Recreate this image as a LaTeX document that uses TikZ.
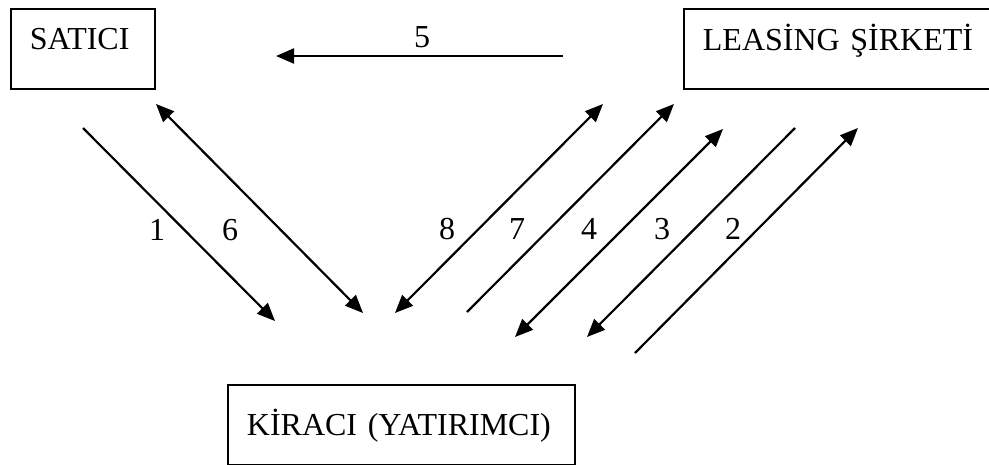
\documentclass[tikz,border=0pt]{standalone}
\usepackage{fontspec}
\setmainfont{Liberation Serif}
\usetikzlibrary{arrows.meta}
\begin{document}
\begin{tikzpicture}[x=1pt,y=-1pt,
  box/.style={draw, line width=1.8pt, anchor=north west, inner xsep=19pt, inner ysep=0pt,
    align=left, font=\fontsize{32}{38}\selectfont},
  lbl/.style={anchor=base, inner sep=0pt, font=\fontsize{32}{38}\selectfont},
  conn/.style={line width=2.2pt},
  tip/.style={-{Triangle[length=18pt,width=15pt]}},
  both/.style={{Triangle[length=18pt,width=15pt]}-{Triangle[length=18pt,width=15pt]}}
]
\useasboundingbox (0,0) rectangle (989,464);
% boxes
\node[box, text width=106pt, text height=41pt, text depth=39pt] (sat) at (10,8) {\mbox{SATICI}};
\node[box, text width=271pt, text height=42pt, text depth=38pt] (les) at (683,8) {\mbox{LEASİNG ŞİRKETİ}};
\node[box, text width=309pt, text height=51pt, text depth=29pt] (kir) at (227,384) {\mbox{KİRACI (YATIRIMCI)}};
% connector end points
\coordinate (a5s) at (563,56);  \coordinate (a5e) at (276,56);
\coordinate (a1s) at (83,128);  \coordinate (a1e) at (275,321);
\coordinate (a6s) at (156,104); \coordinate (a6e) at (363,313);
\coordinate (a8s) at (395,313); \coordinate (a8e) at (603,104);
\coordinate (a7s) at (467,312); \coordinate (a7e) at (674,104);
\coordinate (a4s) at (515,337); \coordinate (a4e) at (723,129);
\coordinate (a3s) at (795,128); \coordinate (a3e) at (587,337);
\coordinate (a2s) at (635,353); \coordinate (a2e) at (858,128);
% connectors
\draw[conn, tip] (a5s) -- (a5e);
\draw[conn, tip] (a1s) -- (a1e);
\draw[conn, both] (a6s) -- (a6e);
\draw[conn, both] (a8s) -- (a8e);
\draw[conn, tip] (a7s) -- (a7e);
\draw[conn, both] (a4s) -- (a4e);
\draw[conn, tip] (a3s) -- (a3e);
\draw[conn, tip] (a2s) -- (a2e);
% labels
\node[lbl] (l5) at (422,47) {5};
\node[lbl] (l1) at (157,240) {1};
\node[lbl] (l6) at (230,240) {6};
\node[lbl] (l8) at (447,239) {8};
\node[lbl] (l7) at (517,239) {7};
\node[lbl] (l4) at (589,239) {4};
\node[lbl] (l3) at (662,239) {3};
\node[lbl] (l2) at (733,239) {2};
\end{tikzpicture}
\end{document}
